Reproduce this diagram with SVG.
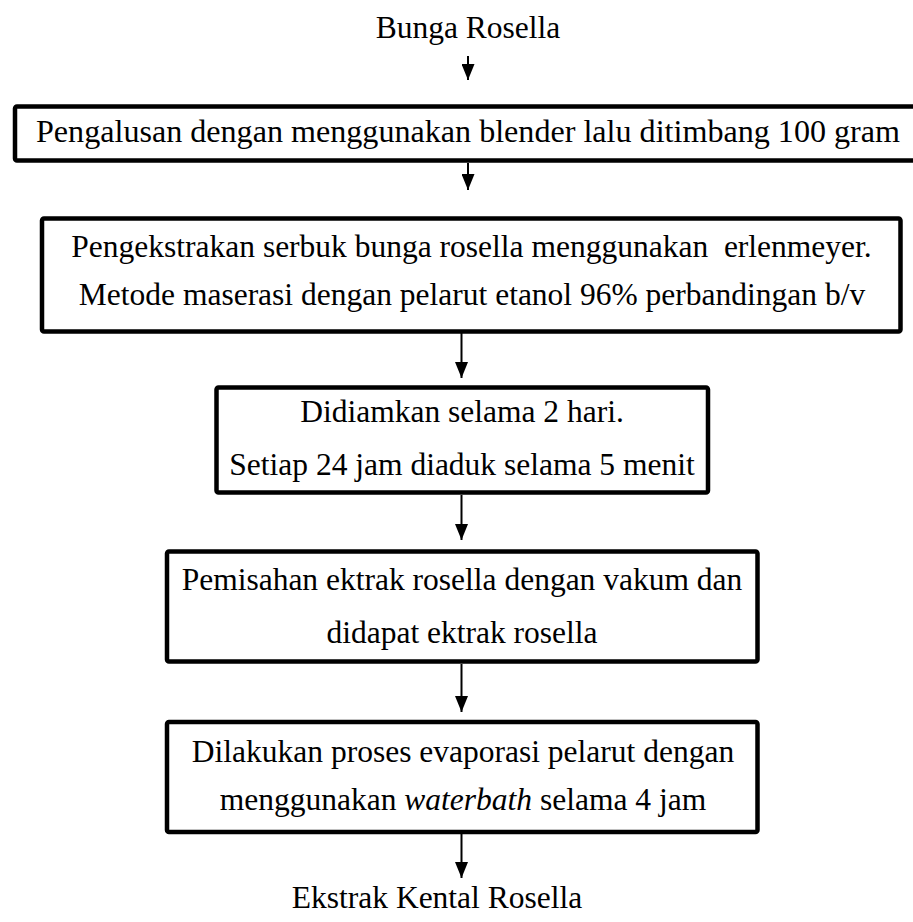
<svg xmlns="http://www.w3.org/2000/svg" width="913" height="922" viewBox="0 0 913 922">
<style>
text{font-family:"Liberation Serif","Times New Roman",serif;font-size:31.5px;fill:#000;text-anchor:middle}
.box{fill:#fff;stroke:#000;stroke-width:4.5;stroke-linejoin:round}
.arr{stroke:#000;stroke-width:2;fill:none;marker-end:url(#ah)}
</style>
<defs>
<marker id="ah" markerWidth="16" markerHeight="13" refX="16" refY="6.5" orient="auto" markerUnits="userSpaceOnUse" viewBox="0 0 16 13">
<path d="M0,0 L16,6.5 L0,13 Z" fill="#000"/>
</marker>
</defs>
<rect width="913" height="922" fill="#fff"/>
<g id="start"><text x="468" y="38">Bunga Rosella</text></g>
<g id="n1"><rect class="box" x="15" y="106.5" width="920" height="54" rx="2"/>
<text x="468" y="142" textLength="864" lengthAdjust="spacingAndGlyphs">Pengalusan dengan menggunakan blender lalu ditimbang 100 gram</text></g>
<g id="n2"><rect class="box" x="42" y="218.5" width="858.5" height="113" rx="2"/>
<text x="471.5" y="257" xml:space="preserve">Pengekstrakan serbuk bunga rosella menggunakan  erlenmeyer.</text>
<text x="472" y="305">Metode maserasi dengan pelarut etanol 96% perbandingan b/v</text></g>
<g id="n3"><rect class="box" x="216.5" y="387.5" width="491.5" height="105" rx="2"/>
<text x="462" y="422">Didiamkan selama 2 hari.</text>
<text x="462" y="475">Setiap 24 jam diaduk selama 5 menit</text></g>
<g id="n4"><rect class="box" x="167" y="551.5" width="590.5" height="110" rx="2"/>
<text x="462" y="590">Pemisahan ektrak rosella dengan vakum dan</text>
<text x="462" y="643">didapat ektrak rosella</text></g>
<g id="n5"><rect class="box" x="167" y="722" width="590.5" height="110" rx="2"/>
<text x="463" y="762">Dilakukan proses evaporasi pelarut dengan</text>
<text x="463" y="810">menggunakan <tspan font-style="italic">waterbath</tspan> selama 4 jam</text></g>
<g id="end"><text x="437" y="908">Ekstrak Kental Rosella</text></g>
<g id="connectors">
<line class="arr" x1="468" y1="56" x2="468" y2="80"/>
<line class="arr" x1="468" y1="163" x2="468" y2="190"/>
<line class="arr" x1="461.5" y1="333" x2="461.5" y2="378"/>
<line class="arr" x1="461.5" y1="495" x2="461.5" y2="540"/>
<line class="arr" x1="461.5" y1="664" x2="461.5" y2="712"/>
<line class="arr" x1="461.5" y1="834" x2="461.5" y2="878"/>
</g>
</svg>
